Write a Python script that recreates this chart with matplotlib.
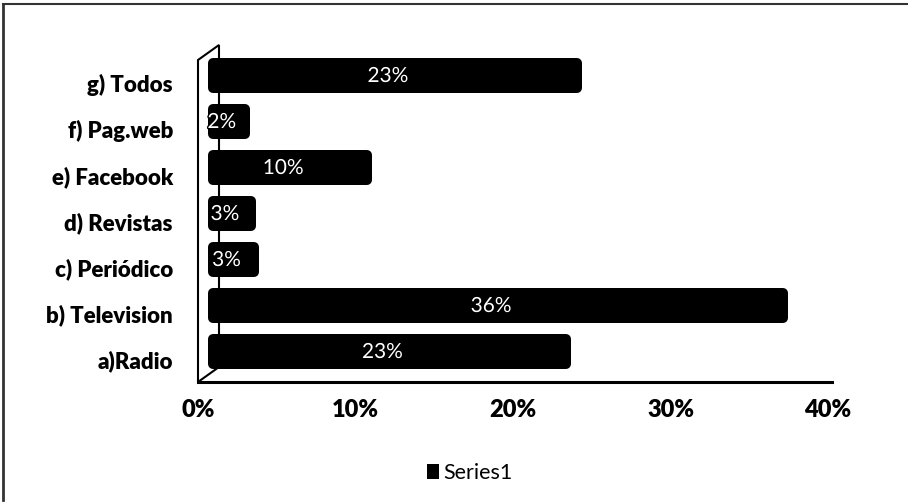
import matplotlib
matplotlib.use('Agg')
import matplotlib.pyplot as plt
import matplotlib.transforms as mtransforms
import matplotlib.patheffects as pe
from matplotlib.patches import Polygon
from matplotlib.lines import Line2D

categories = ['a)Radio', 'b) Television', 'c) Periódico', 'd) Revistas',
              'e) Facebook', 'f) Pag.web', 'g) Todos']
values = [0.224, 0.362, 0.026, 0.024, 0.098, 0.020, 0.231]
bar_labels = ['23%', '36%', '3%', '3%', '10%', '2%', '23%']
xticks = [0, 0.1, 0.2, 0.3, 0.4]
xtick_labels = ['0%', '10%', '20%', '30%', '40%']

plt.rcParams['font.family'] = ['Lato', 'DejaVu Sans']

W, H = 908, 503
fig = plt.figure(figsize=(W / 100, H / 100), dpi=100)
# front plane of the fake 3d box, in pixels
x0, x1, ytop, ybot = 198, 828, 60, 382
ax = fig.add_axes([x0 / W, 1 - ybot / H, (x1 - x0) / W, (ybot - ytop) / H])
ax.set_xlim(0, 0.4)
ax.set_ylim(-0.5, 6.5)
for s in ax.spines.values():
    s.set_visible(False)

aw, ah = x1 - x0, ybot - ytop
dxb, dyb = 21 / aw, 15 / ah
wall = Polygon([(0, 0), (0, 1), (dxb, 1 + dyb), (dxb, dyb)], closed=True,
               facecolor='white', edgecolor='black', lw=1.5,
               transform=ax.transAxes, clip_on=False, zorder=1)
ax.add_patch(wall)
ax.add_line(Line2D([0, 1.006], [0, 0], color='black', lw=2.2,
                   transform=ax.transAxes, clip_on=False, zorder=1))

# bars sit in the middle of the depth
shift = mtransforms.ScaledTranslation(15 / 100, 7.5 / 100, fig.dpi_scale_trans)
bars = ax.barh(range(len(categories)), values, height=0.54, color='black',
               edgecolor='black', linewidth=7.2, joinstyle='round',
               transform=ax.transData + shift, clip_on=False, zorder=3,
               label='Series1')

lshift = mtransforms.ScaledTranslation(8 / 100, 7 / 100, fig.dpi_scale_trans)
for i, (v, t) in enumerate(zip(values, bar_labels)):
    ax.text(v / 2, i, t, ha='center', va='center', color='white',
            fontsize=15, transform=ax.transData + lshift, zorder=4,
            path_effects=[pe.withStroke(linewidth=2, foreground='black')])

ax.set_yticks(range(len(categories)))
ax.set_yticklabels(categories, fontsize=16, fontweight='heavy')
ax.set_xticks(xticks)
ax.set_xticklabels(xtick_labels, fontsize=17, fontweight='heavy')
ax.tick_params(axis='y', length=0, pad=18)
ax.tick_params(axis='x', length=0, pad=12)

leg = fig.legend(handles=[bars], labels=['Series1'], loc='center',
                 bbox_to_anchor=(470 / W, 1 - 473 / H), frameon=False,
                 fontsize=15.5, handlelength=0.55, handleheight=0.7,
                 handletextpad=0.2)
leg.legend_handles[0].set_linewidth(0)

# scanned frame edges (top and left only)
fig.add_artist(Line2D([3 / W, 1], [1 - 4 / H, 1 - 4 / H], color='#333333',
                      lw=1.5, transform=fig.transFigure))
fig.add_artist(Line2D([3 / W, 3 / W], [1 - 4 / H, 1 - 500 / H], color='#333333',
                      lw=2, transform=fig.transFigure))

fig.savefig('out.png', dpi=100, facecolor='white')
